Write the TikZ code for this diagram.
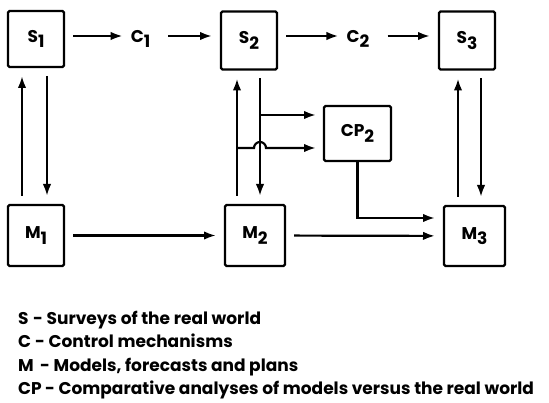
\documentclass[tikz,border=0pt]{standalone}
\usepackage{fontspec}
\setmainfont{Poppins}
\usetikzlibrary{arrows.meta}
\newcommand\lowsub[1]{\raisebox{-0.3em}{#1}}

\begin{document}
\begin{tikzpicture}[x=1pt,y=-1pt,
        font=\bfseries\fontsize{17}{19}\selectfont,
        >={Latex[length=12pt,width=8.5pt]},
        box/.style={draw,line width=2.2pt,rounded corners=1.5pt,minimum width=56pt,minimum height=58pt,inner sep=0pt,outer sep=9pt},
        label/.style={inner sep=8pt},
        legend/.style={anchor=base west,inner sep=0pt,font=\bfseries\fontsize{17}{20}\selectfont},
        flow/.style={->,line width=2.2pt}]
        \useasboundingbox (0,0) rectangle (549,403);

        \node[box,minimum height=56pt] (S1) at (36,39) {S\lowsub{1}};
        \node[box] (S2) at (249,40.5) {S\lowsub{2}};
        \node[box] (S3) at (467,40.5) {S\lowsub{3}};
        \node[label] (C1) at (140.5,39) {C\lowsub{1}};
        \node[label] (C2) at (358,39) {C\lowsub{2}};

        \node[box,minimum height=61pt] (M1) at (36,235.5) {M\lowsub{1}};
        \node[box,minimum width=60pt,minimum height=61pt] (M2) at (255,235.5) {M\lowsub{2}};
        \node[box,minimum width=61pt,minimum height=60pt] (M3) at (474.5,236) {M\lowsub{3}};
        \node[box,minimum width=67pt,minimum height=55pt,outer sep=0pt] (CP2) at (357.5,133.5) {CP\lowsub{2}};

        % top row
        \draw[flow] ([yshift=3pt]S1.east) -- ([yshift=3pt]S1.east -| C1.west);
        \draw[flow,shorten <=10pt] ([yshift=3pt]S1.east -| C1.east) -- ([yshift=3pt]S1.east -| S2.west);
        \draw[flow] ([yshift=3pt]S1.east -| S2.east) -- ([yshift=3pt]S1.east -| C2.west);
        \draw[flow,shorten <=10pt] ([yshift=3pt]S1.east -| C2.east) -- ([yshift=3pt]S1.east -| S3.west);

        % up and down
        \draw[flow] ([xshift=-14pt]M1.north) -- ([xshift=-14pt]S1.south);
        \draw[flow] ([xshift=11pt]S1.south) -- ([xshift=11pt]M1.north);

        \coordinate (up2) at ([xshift=-18pt]M2.north);
        \coordinate (dn2) at ([xshift=5pt]M2.north);
        \draw[flow] (up2) -- (up2 |- S2.south);
        \draw[flow] (dn2 |- S2.south) -- (dn2);

        \coordinate (up3) at ([xshift=-16.5pt]M3.north);
        \coordinate (dn3) at ([xshift=6.5pt]M3.north);
        \draw[flow] (up3) -- (up3 |- S3.south);
        \draw[flow] (dn3 |- S3.south) -- (dn3);

        % into and out of CP2
        \coordinate (cpa) at ([yshift=18.5pt]CP2.west);
        \coordinate (cpb) at ([yshift=-14.5pt]CP2.west);
        \draw[flow,shorten >=8pt] (dn2 |- cpa) -- (cpa);
        \draw[flow,shorten >=8pt] (up2 |- cpb) -- ++(17,0) arc[start angle=180,end angle=0,radius=6pt] -- (cpb);
        \draw[flow] (CP2.south) |- ([yshift=18pt]M3.west);

        % bottom row
        \draw[flow] (M1) -- (M2);
        \draw[flow] (M2) -- (M3);

        % key
        \node[legend] (keyS) at (18,325) {\makebox[15pt][l]{S}- Surveys of the real world};
        \node[legend] (keyC) at (18,348) {\makebox[17pt][l]{C}- Control mechanisms};
        \node[legend] (keyM) at (18,371.5) {\makebox[22pt][l]{M}- Models, forecasts and plans};
        \node[legend] (keyCP) at (18,395) {\makebox[27pt][l]{CP}- Comparative analyses of models versus the real world};
    \end{tikzpicture}
\end{document}
